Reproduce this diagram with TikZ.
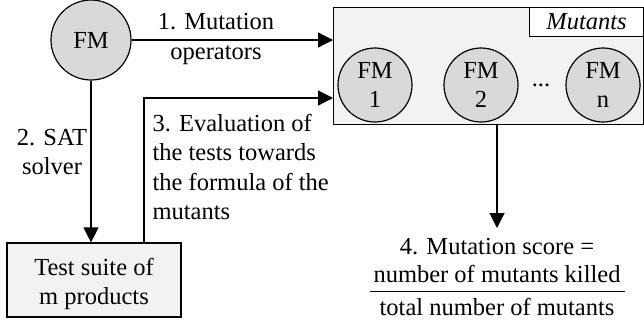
\documentclass[tikz,border=0pt]{standalone}
\usepackage{fontspec}
\setmainfont{Liberation Serif}
\usetikzlibrary{arrows.meta}
\newcommand*{\MutantRow}[1]{% #1 = list of x/label
  \foreach \x/\lbl in {#1} {
    \node [fmcircle, minimum size=74pt] (fm\lbl) at (\x,85) {FM\\\lbl};
    }%
}

\begin{document}
\begin{tikzpicture}[x=1pt,y=-1pt,
    font=\fontsize{24.5}{29.5}\selectfont,
    line width=1.2pt,
    fmcircle/.style={circle, draw=black, fill=black!15, inner sep=0pt, align=center},
    greybox/.style={draw=black, fill=black!5, inner sep=0pt},
    flow/.style={-{Triangle[length=15pt,width=15pt]}}]
    \useasboundingbox (0,0) rectangle (644,325);

    \node [fmcircle, minimum size=80pt] (fm) at (91,40) {FM};
    \node [greybox, anchor=north west, minimum width=310pt, minimum height=117pt] (mutants) at (333,7) {};
    \node [draw=black, fill=white, anchor=north east, minimum width=114pt, minimum height=29pt, inner sep=0pt] (mlabel) at (mutants.north east) {\textit{Mutants}};
    \MutantRow{375/1, 481/2, 603/n}
    \node (dots) at (541,85) {...};
    \node [greybox, minimum width=174pt, minimum height=74pt, align=center] (tests) at (94,280) {\rule{0pt}{25pt}Test suite of\\m products};
    \node [inner sep=0pt, outer ysep=7pt, anchor=north] (score) at (497,228) {%
      \setlength{\arrayrulewidth}{1.2pt}\renewcommand{\arraystretch}{0.95}%
      \begin{tabular}{@{\hspace{4pt}}c@{\hspace{4pt}}}
        4. Mutation score =\\
        number of mutants killed\\ \hline
        \rule{0pt}{23pt}total number of mutants
      \end{tabular}};
    \coordinate (evaltop) at (144,98);

    \draw [flow] (fm.east) -- (fm.east -| mutants.west);
    \draw [flow] (fm.south) -- (tests.north -| fm.south);
    \draw [flow] (tests.north -| evaltop) -- (evaltop) -- (evaltop -| mutants.west);
    \draw [flow] (mutants.south -| score.north) -- (score.north);

    \node [align=center] (opslbl) at (216,39) {1. Mutation\\operators};
    \node [align=center] (satlbl) at (52,152) {2. SAT\\solver};
    \node [align=left, anchor=west, inner sep=0pt] (evallbl) at (152,167) {3. Evaluation of\\the tests towards\\the formula of the\\mutants};
\end{tikzpicture}
\end{document}
